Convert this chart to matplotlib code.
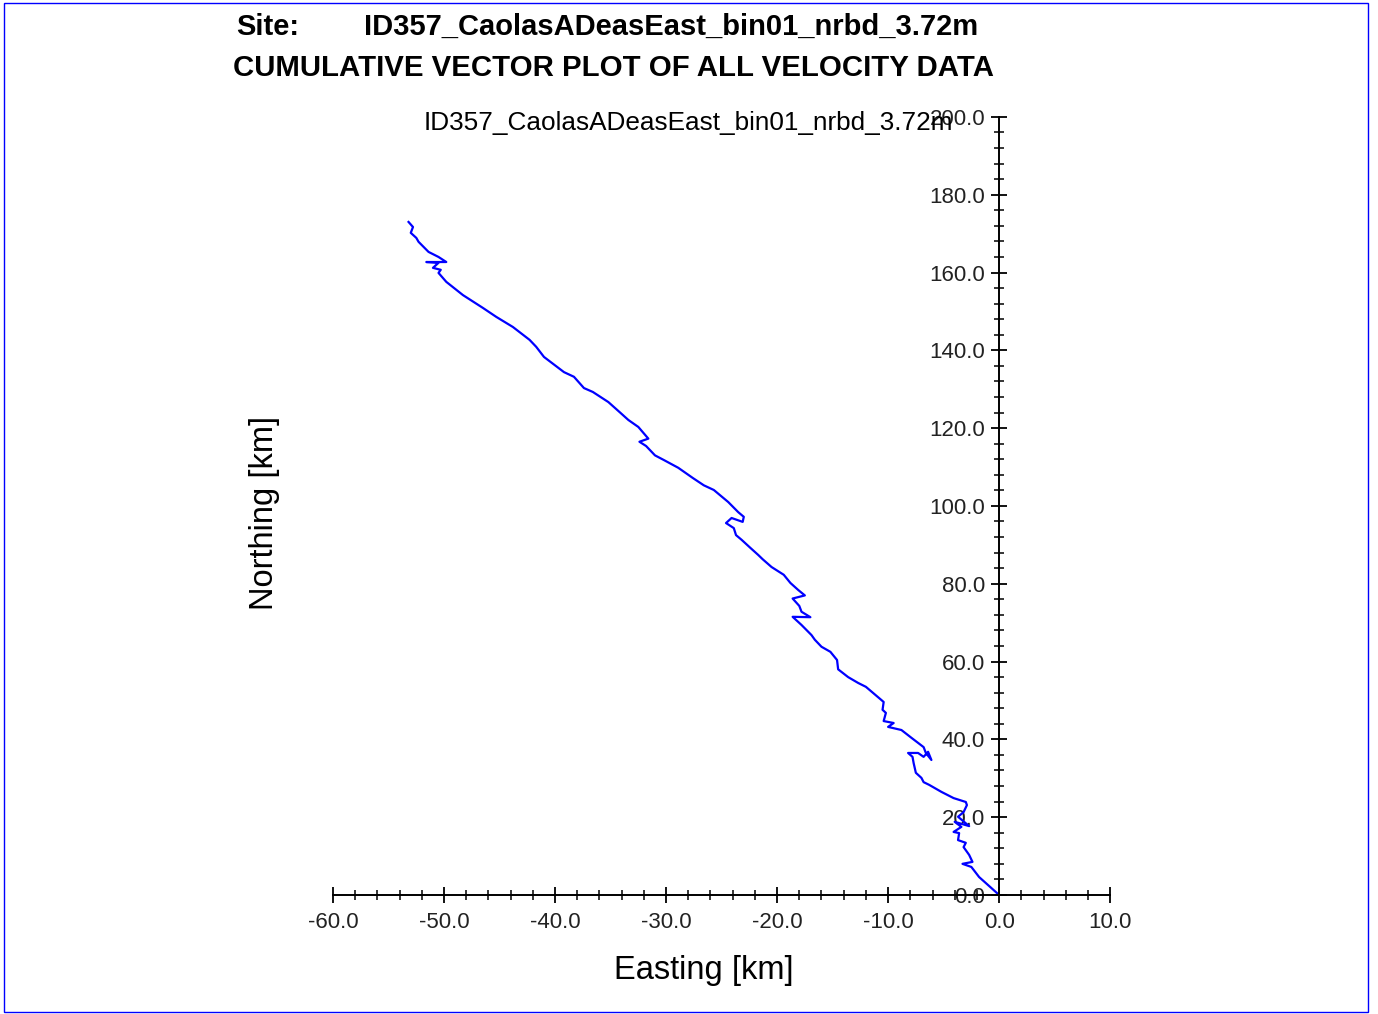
import matplotlib
matplotlib.use("Agg")
import matplotlib.pyplot as plt
from matplotlib.ticker import MultipleLocator, FormatStrFormatter
from matplotlib.patches import Rectangle

plt.rcParams['font.family'] = ['Liberation Sans', 'DejaVu Sans']

siteName = "ID357_CaolasADeasEast_bin01_nrbd_3.72m"
titleLine2 = "CUMULATIVE VECTOR PLOT OF ALL VELOCITY DATA"

# cumulative displacement, km
easting = [0.0, -0.9, -1.8, -2.5, -3.3, -2.4, -2.7, -3.2, -3.0, -3.7,
           -3.6, -4.1, -3.4, -4.0, -2.7, -3.7, -3.2, -2.9, -3.0, -4.1,
           -5.2, -6.3, -6.8, -7.0, -7.5, -7.7, -7.8, -8.2, -7.3, -6.8,
           -6.4, -6.1, -6.6, -6.8, -7.9, -8.8, -10.0, -9.5, -10.4, -10.2,
           -10.5, -10.4, -10.6, -12.0, -12.7, -13.6, -14.5, -14.6, -15.2, -16.0,
           -16.6, -16.9, -17.8, -18.6, -17.0, -17.8, -18.0, -18.6, -17.5, -18.1,
           -18.8, -19.4, -20.5, -21.3, -21.7, -22.4, -23.2, -23.7, -23.9, -24.6,
           -24.1, -23.1, -23.0, -23.5, -24.4, -25.7, -26.6, -27.6, -28.9, -30.2,
           -31.0, -31.8, -32.4, -31.6, -32.5, -33.4, -34.1, -35.2, -36.6, -37.4,
           -38.3, -39.2, -41.0, -41.7, -42.3, -43.8, -45.3, -46.5, -48.3, -49.8,
           -50.5, -50.3, -51.0, -50.5, -51.6, -49.8, -50.5, -51.4, -52.3, -52.5,
           -53.0, -52.8, -53.2]
northing = [0.0, 2.3, 4.6, 7.2, 8.0, 8.5, 10.3, 12.3, 13.4, 14.1,
            15.9, 16.2, 17.5, 18.8, 17.7, 20.1, 21.3, 23.1, 23.9, 24.9,
            26.5, 28.3, 29.0, 30.1, 31.4, 33.9, 35.5, 36.5, 36.5, 35.5,
            36.8, 34.7, 36.5, 38.0, 40.4, 42.4, 43.2, 44.2, 44.7, 46.8,
            47.6, 49.6, 50.1, 53.5, 54.5, 56.0, 58.0, 60.4, 62.5, 63.8,
            65.6, 66.8, 69.4, 71.5, 71.4, 72.8, 74.3, 76.2, 77.0, 78.4,
            80.2, 82.3, 84.3, 86.3, 87.4, 89.2, 91.3, 92.5, 94.3, 95.6,
            96.9, 95.9, 97.2, 98.4, 101.0, 104.1, 105.3, 107.2, 109.8, 111.8,
            113.0, 115.4, 116.5, 117.3, 120.3, 122.1, 123.9, 126.7, 129.3, 130.3,
            133.2, 134.4, 138.3, 140.9, 142.7, 146.0, 148.6, 150.9, 154.2, 157.6,
            159.9, 160.7, 161.2, 162.5, 162.7, 162.7, 164.0, 165.3, 167.9, 168.9,
            170.2, 171.7, 173.0]

fig = plt.figure(figsize=(13.78, 10.14), dpi=100)
ax = fig.add_axes([0.2417, 0.1174, 0.5639, 0.7673])

ax.plot(easting, northing, color="#0000ff", lw=1.6)

ax.set_xlim(-60, 10)
ax.set_ylim(0, 200)
ax.spines['left'].set_position(('data', 0))
ax.spines['bottom'].set_position(('data', 0))
ax.spines['top'].set_visible(False)
ax.spines['right'].set_visible(False)
for s in ['left', 'bottom']:
    ax.spines[s].set_linewidth(1.4)

ax.xaxis.set_major_locator(MultipleLocator(10))
ax.xaxis.set_minor_locator(MultipleLocator(2))
ax.yaxis.set_major_locator(MultipleLocator(20))
ax.yaxis.set_minor_locator(MultipleLocator(4))
ax.xaxis.set_major_formatter(FormatStrFormatter('%.1f'))
ax.yaxis.set_major_formatter(FormatStrFormatter('%.1f'))
ax.tick_params(which='major', direction='inout', length=12, width=1.3,
               labelsize=16, labelcolor='#222222', pad=6)
ax.tick_params(axis='y', which='major', pad=4)
ax.tick_params(which='minor', direction='inout', length=7, width=1.1)

fig.text(704 / 1378, 1 - 970 / 1014, "Easting [km]", fontsize=23.5,
         ha='center', va='center')
fig.text(265 / 1378, 1 - 513 / 1014, "Northing [km]", fontsize=23.5,
         rotation=90, ha='center', va='center')

fig.text(688 / 1378, 1 - 123 / 1014, siteName, fontsize=18.8,
         ha='center', va='center')

titleFont = ['Liberation Sans Narrow', 'Liberation Sans']
fig.text(236 / 1378, 1 - 27 / 1014, "Site:", fontsize=21, weight='bold',
         family=titleFont, va='center')
fig.text(364 / 1378, 1 - 27 / 1014, siteName, fontsize=21, weight='bold',
         family=titleFont, va='center')
fig.text(233 / 1378, 1 - 68 / 1014, titleLine2, fontsize=21.2, weight='bold',
         family=titleFont, va='center')

fig.patches.append(Rectangle((4 / 1378, 2 / 1014), 1364 / 1378, 1009 / 1014,
                             transform=fig.transFigure, fill=False,
                             edgecolor='#0000ff', lw=1))

fig.savefig("out.png", dpi=100)
